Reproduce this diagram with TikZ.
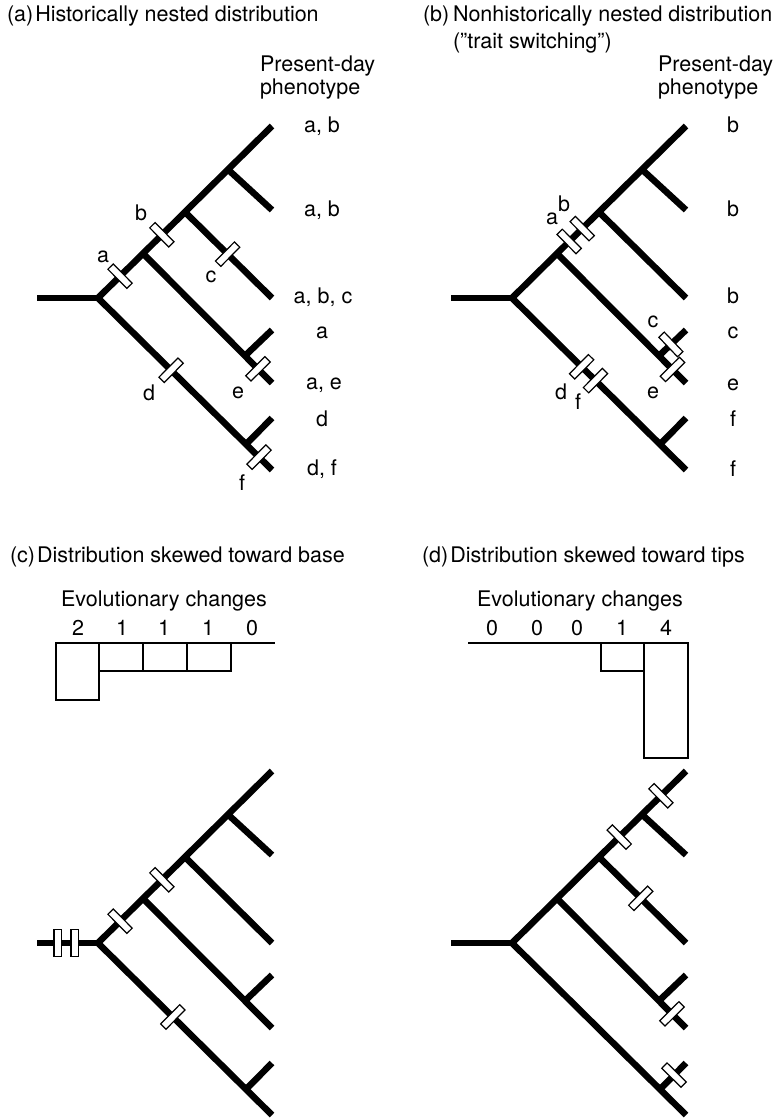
\documentclass[tikz,border=0pt]{standalone}
\usepackage{fontspec}
\setmainfont{TeX Gyre Heros}
\tikzset{
  br/.style={line width=6.5pt, line cap=butt, line join=miter},
  bar/.style={rectangle, draw, fill=white, line width=1.2pt, minimum width=7.5pt, minimum height=27pt, inner sep=0pt, outer sep=0pt, sloped},
  lab/.style={font=\fontsize{21.5}{24}\selectfont, inner sep=0pt, outer sep=0pt},
  hist/.style={line width=1.3pt},
  histbase/.style={line width=2.6pt},
}
\newcommand\mytree{%
  \coordinate (S) at (-61,0);
  \coordinate (R) at (0,0);
  \coordinate (N1) at (45,-44.5);
  \coordinate (N2) at (87,-86);
  \coordinate (N3) at (130,-128.5);
  \coordinate (N4) at (147,57.8);
  \coordinate (N5) at (148,146.3);
  \coordinate (T1) at (174,-172);
  \coordinate (T2) at (174,-88);
  \coordinate (T3) at (174,0);
  \coordinate (T4) at (174,32);
  \coordinate (T5) at (174,85);
  \coordinate (T6) at (174,120);
  \coordinate (T7) at (174,172);
  \draw[br] (S) -- (R);
  \draw[br] (T1) -- (R) -- (T7);
  \draw[br] (N3) -- (T2);
  \draw[br] (N2) -- (T3);
  \draw[br] (N1) -- (T5);
  \draw[br] (N4) -- (T4);
  \draw[br] (N5) -- (T6);
}
\begin{document}
\begin{tikzpicture}[x=1pt,y=-1pt]
\useasboundingbox (0,0) rectangle (775,1118);

% ---------------- (a)
\node[lab, anchor=base west] (ta) at (7,22) {(a)\hspace{2pt}Historically nested distribution};
\node[lab, anchor=base west] (pa1) at (260,72) {Present-day};
\node[lab, anchor=base west] (pa2) at (260,95) {phenotype};
\begin{scope}[shift={(98,298)}, name prefix=a-]
  \mytree
  \path (R) -- (N1) node[bar, pos=0.49] (ma) {};
  \path (N1) -- (N2) node[bar, pos=0.45] (mb) {};
  \path (N2) -- (T3) node[bar, pos=0.49] (mc) {};
  \path (R) -- (T7) node[bar, pos=0.42] (md) {};
  \path (N4) -- (T5) node[bar, pos=0.48] (me) {};
  \path (N5) -- (T7) node[bar, pos=0.5] (mf) {};
\end{scope}
\node[lab] (la) at (103,257) {a};
\node[lab] (lb) at (141,213) {b};
\node[lab] (lc) at (211,277) {c};
\node[lab] (ld) at (149,393) {d};
\node[lab] (le) at (238,393) {e};
\node[lab] (lf) at (242,483) {f};
\node[lab, anchor=base] (pa-t1) at (322,133) {a, b};
\node[lab, anchor=base] (pa-t2) at (322,216) {a, b};
\node[lab, anchor=base] (pa-t3) at (323,303) {a, b, c};
\node[lab, anchor=base] (pa-t4) at (322,338) {a};
\node[lab, anchor=base] (pa-t5) at (324,389) {a, e};
\node[lab, anchor=base] (pa-t6) at (322,426) {d};
\node[lab, anchor=base] (pa-t7) at (322,475) {d, f};

% ---------------- (b)
\node[lab, anchor=base west] (tb) at (423,22) {(b)};
\node[lab, anchor=base west] (tb1) at (453,22) {Nonhistorically nested distribution};
\node[lab, anchor=base west] (tb2) at (453,49) {(”trait switching”)};
\node[lab, anchor=base west] (pb1) at (658,72) {Present-day};
\node[lab, anchor=base west] (pb2) at (658,95) {phenotype};
\begin{scope}[shift={(512,298)}, name prefix=b-]
  \mytree
  \path (N1) -- (N2) node[bar, pos=0.29] (ma) {};
  \path (N1) -- (N2) node[bar, pos=0.6] (mb) {};
  \path (N4) -- (T4) node[bar, pos=0.44] (mc) {};
  \path (N4) -- (T5) node[bar, pos=0.5] (me) {};
  \path (R) -- (T7) node[bar, pos=0.40] (md) {};
  \path (R) -- (T7) node[bar, pos=0.48] (mf) {};
\end{scope}
\node[lab] (lba) at (552,219) {a};
\node[lab] (lbb) at (564,204) {b};
\node[lab] (lbc) at (653,322) {c};
\node[lab] (lbe) at (653,393) {e};
\node[lab] (lbd) at (561,392) {d};
\node[lab] (lbf) at (578,402) {f};
\node[lab, anchor=base] (pb-t1) at (733,133) {b};
\node[lab, anchor=base] (pb-t2) at (733,216) {b};
\node[lab, anchor=base] (pb-t3) at (733,303) {b};
\node[lab, anchor=base] (pb-t4) at (733,338) {c};
\node[lab, anchor=base] (pb-t5) at (733,390) {e};
\node[lab, anchor=base] (pb-t6) at (733,426) {f};
\node[lab, anchor=base] (pb-t7) at (733,476) {f};

% ---------------- (c)
\node[lab, anchor=base west] (tc) at (10,562) {(c)\hspace{2pt}Distribution skewed toward base};
\node[lab, anchor=base] (ec) at (164,606) {Evolutionary changes};
\node[lab, anchor=base] (c1) at (78,635) {2};
\node[lab, anchor=base] (c2) at (122,635) {1};
\node[lab, anchor=base] (c3) at (164,635) {1};
\node[lab, anchor=base] (c4) at (208,635) {1};
\node[lab, anchor=base] (c5) at (252,635) {0};
\draw[hist] (56,643) rectangle (99,700);
\draw[hist] (99,643) rectangle (143,671);
\draw[hist] (143,643) rectangle (187,671);
\draw[hist] (187,643) rectangle (231,671);
\draw[histbase] (231,643) -- (275,643);
\begin{scope}[shift={(98,943)}, name prefix=c-]
  \mytree
  \path (S) -- (R) node[bar, pos=0.34] (mr1) {};
  \path (S) -- (R) node[bar, pos=0.62] (mr2) {};
  \path (R) -- (N1) node[bar, pos=0.49] (ma) {};
  \path (N1) -- (N2) node[bar, pos=0.45] (mb) {};
  \path (R) -- (T7) node[bar, pos=0.43] (md) {};
\end{scope}

% ---------------- (d)
\node[lab, anchor=base west] (td) at (422,562) {(d)\hspace{2pt}Distribution skewed toward tips};
\node[lab, anchor=base] (ed) at (580,606) {Evolutionary changes};
\node[lab, anchor=base] (d1) at (492,635) {0};
\node[lab, anchor=base] (d2) at (537,635) {0};
\node[lab, anchor=base] (d3) at (577,635) {0};
\node[lab, anchor=base] (d4) at (622,635) {1};
\node[lab, anchor=base] (d5) at (666,635) {4};
\draw[histbase] (468,643) -- (601,643);
\draw[hist] (601,643) rectangle (644,671);
\draw[hist] (644,643) rectangle (688,758);
\begin{scope}[shift={(512,943)}, name prefix=d-]
  \mytree
  \path (N3) -- (T1) node[bar, pos=0.43] (m1) {};
  \path (N2) -- (N3) node[bar, pos=0.47] (m2) {};
  \path (N2) -- (T3) node[bar, pos=0.48] (m3) {};
  \path (N4) -- (T5) node[bar, pos=0.48] (m5) {};
  \path (N5) -- (T6) node[bar, pos=0.54] (m6) {};
\end{scope}
\end{tikzpicture}
\end{document}
